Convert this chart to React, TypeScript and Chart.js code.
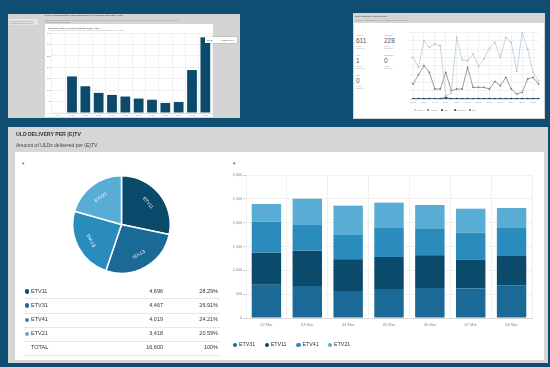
import React, { useEffect, useRef } from "react";
import { Chart, registerables } from "chart.js";
Chart.register(...registerables);

const FONT = "'Liberation Sans', Arial, sans-serif";

// ---- top-left bar chart ----
const topBarLabels = ["N/A", "0-1h", "1-2h", "2-3h", "3-4h", "4-5h", "5-6h", "6-7h", "7-8h", "8-9h", "9-10h", ">10h"];
const topBarValues = [2, 160, 117, 88, 79, 72, 63, 58, 44, 48, 188, 331];

// ---- top-right line chart ----
const lineLabels = ["00:00", "01:00", "02:00", "03:00", "04:00", "05:00", "06:00", "07:00", "08:00", "09:00", "10:00", "11:00", "12:00", "13:00", "14:00", "15:00", "16:00", "17:00", "18:00", "19:00", "20:00", "21:00", "22:00", "23:00"];
const loadedValues = [5.0, 3.8, 7.0, 6.2, 6.6, 6.4, 0.4, 0.7, 7.4, 4.7, 4.6, 5.4, 3.9, 4.8, 6.1, 6.8, 5.0, 7.4, 6.8, 3.3, 8.0, 6.0, 3.2, 2.2];
const handledValues = [1.8, 2.9, 4.0, 3.2, 1.2, 1.2, 3.2, 1.0, 1.2, 1.2, 3.8, 1.4, 1.4, 1.4, 1.2, 2.1, 1.6, 2.6, 1.2, 0.6, 0.8, 2.4, 2.6, 1.8];
const lostValues = [0, 0, 0, 0, 0, 0, 0.2, 0, 0, 0, 0, 0, 0, 0, 0, 0, 0, 0, 0, 0, 0, 0, 0, 0];
const damagedValues = [0, 0, 0, 0, 0, 0, 0, 0, 0, 0, 0, 0, 0, 0, 0, 0, 0, 0, 0, 0, 0, 0, 0, 0];
const lateValues = [0, 0, 0, 0, 0, 0, 0, 0, 0, 0, 0, 0, 0, 0, 0, 0, 0, 0, 0, 0, 0, 0, 0, 0];
const lineSeriesNames = ["Loaded", "Handled", "Lost", "Damaged", "Late"];

// ---- bottom: pie + table ----
const etvNames = ["ETV11", "ETV31", "ETV41", "ETV21"];
const etvTotals = [4696, 4467, 4019, 3418];
const etvPercents = ["28.29%", "26.91%", "24.21%", "20.59%"];
const etvTotalSum = "16,600";

// ---- bottom: stacked bars ----
const dayLabels = ["02 Mar", "03 Mar", "04 Mar", "05 Mar", "06 Mar", "07 Mar", "08 Mar"];
const etv31Daily = [700, 671, 566, 608, 629, 622, 678];
const etv11Daily = [671, 742, 665, 672, 686, 602, 623];
const etv41Daily = [650, 538, 510, 608, 566, 566, 587];
const etv21Daily = [371, 552, 616, 532, 490, 504, 420];

const COL: Record<string, string> = {
  ETV11: "#0b4a6b",
  ETV31: "#1a6996",
  ETV41: "#2a8cbd",
  ETV21: "#59add4",
};

const abs = (l: number, t: number, w?: number, h?: number): React.CSSProperties => ({
  position: "absolute", left: l, top: t, width: w, height: h,
});

const pieLabelPlugin = {
  id: "pieLabels",
  afterDatasetsDraw(chart: any) {
    const { ctx } = chart;
    const meta = chart.getDatasetMeta(0);
    meta.data.forEach((arc: any, i: number) => {
      const p = arc.getProps(["x", "y", "startAngle", "endAngle", "outerRadius"], true);
      const mid = (p.startAngle + p.endAngle) / 2;
      const r = p.outerRadius * 0.7;
      ctx.save();
      ctx.translate(p.x + Math.cos(mid) * r, p.y + Math.sin(mid) * r);
      ctx.rotate(mid + Math.PI / 2);
      ctx.fillStyle = "#ffffff";
      ctx.font = `4.6px ${FONT}`;
      ctx.textAlign = "center";
      ctx.textBaseline = "middle";
      ctx.fillText(chart.data.labels[i], 0, 0);
      ctx.restore();
    });
  },
};

export default function App() {
  const barRef = useRef<HTMLCanvasElement>(null);
  const lineRef = useRef<HTMLCanvasElement>(null);
  const pieRef = useRef<HTMLCanvasElement>(null);
  const stackRef = useRef<HTMLCanvasElement>(null);

  useEffect(() => {
    const charts: Chart[] = [];
    const tinyTicks = (size: number) => ({ font: { size, family: FONT }, color: "#888" });

    charts.push(new Chart(barRef.current!, {
      type: "bar",
      data: { labels: topBarLabels, datasets: [{ data: topBarValues, backgroundColor: "#0b4a6b", categoryPercentage: 0.73, barPercentage: 1 }] },
      options: {
        animation: false, responsive: false,
        layout: { padding: { top: 3, right: 1 } },
        plugins: { legend: { display: false }, tooltip: { enabled: false } },
        scales: {
          x: { grid: { color: "#f0f0f0", drawTicks: false }, border: { color: "#ddd" }, ticks: { ...tinyTicks(2.5), padding: 1, maxRotation: 0, autoSkip: false }, afterFit: (s: any) => { s.height = 4; } },
          y: { min: 0, max: 350, ticks: { ...tinyTicks(2.5), stepSize: 50, padding: 1 }, grid: { color: "#f0f0f0", drawTicks: false }, border: { display: false }, afterFit: (s: any) => { s.width = 7; } },
        },
      },
    } as any));

    const lineDs = (label: string, data: number[], color: string) => ({
      label, data, borderColor: color, backgroundColor: color, borderWidth: 0.7, pointRadius: 0.7, pointBorderWidth: 0.4, tension: 0,
    });
    charts.push(new Chart(lineRef.current!, {
      type: "line",
      data: {
        labels: lineLabels,
        datasets: [
          lineDs(lineSeriesNames[0], loadedValues, "#a9c4d6"),
          lineDs(lineSeriesNames[1], handledValues, "#6e767b"),
          lineDs(lineSeriesNames[2], lostValues, "#1c3550"),
          lineDs(lineSeriesNames[3], damagedValues, "#22384f"),
          lineDs(lineSeriesNames[4], lateValues, "#2d7fae"),
        ],
      },
      options: {
        animation: false, responsive: false,
        layout: { padding: { top: 4, right: 3 } },
        plugins: { legend: { display: false }, tooltip: { enabled: false } },
        scales: {
          x: { grid: { color: "#f2f2f2", drawTicks: false }, border: { color: "#ddd" }, ticks: { ...tinyTicks(2.2), padding: 2, maxRotation: 0, autoSkip: true, maxTicksLimit: 13 }, afterFit: (s: any) => { s.height = 9; } },
          y: { min: 0, max: 8, ticks: { ...tinyTicks(2.2), stepSize: 1, padding: 1 }, grid: { color: "#f0f0f0", drawTicks: false }, border: { display: false }, afterFit: (s: any) => { s.width = 8; } },
        },
      },
    } as any));

    charts.push(new Chart(pieRef.current!, {
      type: "pie",
      data: { labels: etvNames, datasets: [{ data: etvTotals, backgroundColor: etvNames.map((n) => COL[n]), borderColor: "#ffffff", borderWidth: 1.5 }] },
      options: {
        animation: false, responsive: false,
        layout: { padding: 0 },
        plugins: { legend: { display: false }, tooltip: { enabled: false } },
      },
      plugins: [pieLabelPlugin],
    } as any));

    const stackDs = (label: string, data: number[]) => ({
      label, data, backgroundColor: COL[label], categoryPercentage: 0.72, barPercentage: 1, stack: "s",
    });
    charts.push(new Chart(stackRef.current!, {
      type: "bar",
      data: {
        labels: dayLabels,
        datasets: [
          stackDs("ETV31", etv31Daily),
          stackDs("ETV11", etv11Daily),
          stackDs("ETV41", etv41Daily),
          stackDs("ETV21", etv21Daily),
        ],
      },
      options: {
        animation: false, responsive: false,
        layout: { padding: { top: 5, right: 8 } },
        plugins: { legend: { display: false }, tooltip: { enabled: false } },
        scales: {
          x: { stacked: true, grid: { color: "#f0f0f0", drawTicks: false }, border: { color: "#d8d8d8" }, ticks: { ...tinyTicks(4), padding: 4, maxRotation: 0 }, afterFit: (s: any) => { s.height = 17; } },
          y: {
            stacked: true, min: 0, max: 3000,
            ticks: { ...tinyTicks(3.8), stepSize: 500, padding: 1, callback: (v: any) => Number(v).toLocaleString("en-US") },
            grid: { color: "#f0f0f0", tickLength: 3, tickColor: "#ccc" }, border: { display: false },
            afterFit: (s: any) => { s.width = 26; },
          },
        },
      },
    } as any));

    return () => charts.forEach((c) => c.destroy());
  }, []);

  const tiny = (size: number, color = "#666", bold = false): React.CSSProperties => ({
    fontSize: size, color, fontWeight: bold ? 700 : 400, whiteSpace: "nowrap", lineHeight: 1,
  });

  return (
    <div style={{ position: "fixed", left: 0, top: 0, width: 550, height: 367, background: "#0f4d72", fontFamily: FONT, overflow: "hidden" }}>
      {/* ---- top-left panel ---- */}
      <div style={{ ...abs(8, 14, 232, 104), background: "#d4d4d4" }} />
      <div style={{ ...abs(9, 19, 29, 6), background: "#e4e4e4" }} />
      <div style={{ ...abs(10, 19.5), ...tiny(2, "#777") }}>Select a date range to filter</div>
      <div style={{ ...abs(10, 22), ...tiny(2, "#777") }}>the data below by delivery</div>
      <div style={{ ...abs(45, 15), ...tiny(2.4, "#555", true) }}>DAILY ULD DELIVERY PERFORMANCE AT THE ULD DELIVERY AREA</div>
      <div style={{ ...abs(45, 18.5), ...tiny(2, "#888") }}>This report shows the delivery time of ULDs from the moment they are registered at the delivery area until they have been picked up by an (E)TV driver.</div>
      <div style={{ ...abs(45, 21), ...tiny(2, "#888") }}>Times are grouped per hour.</div>
      <div style={{ ...abs(45, 24, 168, 93), background: "#ffffff" }} />
      <div style={{ ...abs(48, 26.5), ...tiny(2.2, "#555", true) }}>DELIVERY TIME OF ULDs FROM DELIVERY AREA</div>
      <div style={{ ...abs(48, 29.5), ...tiny(1.8, "#999") }}>Amount of ULDs per delivery time bucket, from registration at the area until delivery to the (E)TV</div>
      <canvas ref={barRef} width={168} height={87} style={{ ...abs(45, 30, 168, 87) }} />
      <div style={{ ...abs(205, 37, 32, 6), background: "#ffffff", boxShadow: "0 0 1px rgba(0,0,0,0.4)" }} />
      <div style={{ ...abs(207, 39), ...tiny(2, "#555") }}>ETV11</div>
      <div style={{ ...abs(221, 39), ...tiny(2, "#555") }}>1,225,000.00%</div>

      {/* ---- top-right panel ---- */}
      <div style={{ ...abs(353, 13, 192, 106), background: "#d4d4d4" }} />
      <div style={{ ...abs(355, 14.5), ...tiny(2.2, "#555", true) }}>ULD HANDLING ON THE SHIFT</div>
      <div style={{ ...abs(355, 19), ...tiny(2, "#888") }}>Amount of ULDs handled by ETV and ETV drivers per hour</div>
      <div style={{ ...abs(354, 23, 190, 95), background: "#ffffff" }} />
      {[
        { l: 356, t: 34, name: "Loaded", v: "611" },
        { l: 384, t: 34, name: "Handled", v: "228" },
        { l: 356, t: 54, name: "Lost", v: "1" },
        { l: 384, t: 54, name: "Damaged", v: "0" },
        { l: 356, t: 74, name: "Late", v: "0" },
      ].map((k) => (
        <React.Fragment key={k.name}>
          <div style={{ ...abs(k.l, k.t), ...tiny(2.2, "#888") }}>{k.name}</div>
          <div style={{ ...abs(k.l, k.t + 4), ...tiny(6.5, "#555") }}>{k.v}</div>
          <div style={{ ...abs(k.l, k.t + 11.5), ...tiny(1.8, "#999") }}>of total</div>
          <div style={{ ...abs(k.l, k.t + 13.5), ...tiny(1.8, "#999") }}>last 24 hrs</div>
        </React.Fragment>
      ))}
      <canvas ref={lineRef} width={138} height={80} style={{ ...abs(405, 28, 138, 80) }} />
      {lineSeriesNames.map((n, i) => {
        const cols = ["#a9c4d6", "#6e767b", "#1c3550", "#22384f", "#2d7fae"];
        const xs = [414, 427, 441, 454, 469];
        return (
          <React.Fragment key={n}>
            <div style={{ ...abs(xs[i], 109, 2, 2), borderRadius: 1, background: cols[i] }} />
            <div style={{ ...abs(xs[i] + 2.8, 109), ...tiny(2, "#888") }}>{n}</div>
          </React.Fragment>
        );
      })}

      {/* ---- bottom panel ---- */}
      <div style={{ ...abs(8, 127, 540, 236), background: "#d6d6d6" }} />
      <div style={{ ...abs(16, 131.5), ...tiny(5.2, "#333", true) }}>ULD DELIVERY PER (E)TV</div>
      <div style={{ ...abs(16, 142.5), ...tiny(5, "#444") }}>Amount of ULDs delivered per (E)TV</div>
      <div style={{ ...abs(15, 152, 529, 208), background: "#ffffff" }} />
      <div style={{ ...abs(21, 161.5), ...tiny(4.5, "#777") }}>▼</div>
      <div style={{ ...abs(232, 161.5), ...tiny(4.5, "#777") }}>▼</div>

      <canvas ref={pieRef} width={99} height={99} style={{ ...abs(72, 174.5, 99, 99) }} />

      {etvNames.map((n, i) => {
        const cy = 291.3 + i * 14.3;
        return (
          <React.Fragment key={n}>
            <div style={{ ...abs(24.5, cy - 2.3, 4.6, 4.6), borderRadius: "50%", background: COL[n] }} />
            <div style={{ ...abs(31, cy - 2.8), ...tiny(5.5, "#333") }}>{n}</div>
            <div style={{ ...abs(120, cy - 2.8, 43), ...tiny(5.5, "#333"), textAlign: "right" }}>{etvTotals[i].toLocaleString("en-US")}</div>
            <div style={{ ...abs(175, cy - 2.8, 43), ...tiny(5.5, "#333"), textAlign: "right" }}>{etvPercents[i]}</div>
            <div style={{ ...abs(24, cy + 7, 196, 0.6), background: "#e8e8e8" }} />
          </React.Fragment>
        );
      })}
      <div style={{ ...abs(31, 345.2), ...tiny(5.5, "#333") }}>TOTAL</div>
      <div style={{ ...abs(120, 345.2, 43), ...tiny(5.5, "#333"), textAlign: "right" }}>{etvTotalSum}</div>
      <div style={{ ...abs(175, 345.2, 43), ...tiny(5.5, "#333"), textAlign: "right" }}>100%</div>
      <div style={{ ...abs(24, 355, 196, 0.6), background: "#e8e8e8" }} />

      <canvas ref={stackRef} width={320} height={165} style={{ ...abs(220, 170, 320, 165) }} />
      {["ETV31", "ETV11", "ETV41", "ETV21"].map((n, i) => {
        const x = 233 + i * 31.7;
        return (
          <React.Fragment key={n}>
            <div style={{ ...abs(x, 342.5, 4.4, 4.4), borderRadius: "50%", background: COL[n] }} />
            <div style={{ ...abs(x + 6, 342), ...tiny(5.3, "#333") }}>{n}</div>
          </React.Fragment>
        );
      })}
    </div>
  );
}
